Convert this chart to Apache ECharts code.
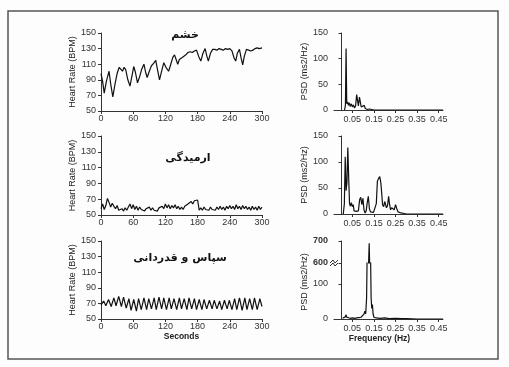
<!DOCTYPE html>
<html>
<head>
<meta charset="utf-8">
<script src="https://cdn.jsdelivr.net/npm/echarts@6/dist/echarts.min.js"></script>
<style>
  html, body { margin: 0; padding: 0; background: #fff; }
  #chart { width: 509px; height: 367px; }
</style>
</head>
<body>
<div id="chart"></div>
<script>
// panel titles (Persian): anger, relaxation, appreciation
const panelTitles = ['خشم', 'ارمیدگی', 'سپاس و قدردانی'];
const freqTicks = [0.05, 0.15, 0.25, 0.35, 0.45];

// heart rate traces, [seconds, BPM]
const angerHr = [
  [0, 98], [3, 88], [6, 73], [10, 88], [15, 101], [18, 85], [22, 68], [26, 84], [30, 98], [34, 106],
  [37, 104], [40, 101], [43, 106], [46, 103], [50, 90], [54, 82], [58, 96], [61, 107], [64, 100], [68, 86],
  [72, 94], [76, 104], [80, 110], [83, 100], [86, 93], [90, 101], [94, 108], [98, 111], [102, 115], [105, 104],
  [109, 90], [113, 101], [117, 112], [121, 106], [126, 101], [130, 110], [134, 119], [137, 122], [140, 116], [143, 110],
  [146, 116], [150, 118], [154, 120], [158, 122], [162, 125], [166, 126], [170, 125], [174, 127], [178, 128], [182, 120],
  [186, 114], [190, 124], [194, 130], [197, 121], [200, 114], [204, 124], [208, 129], [212, 129], [216, 128], [220, 130],
  [224, 129], [228, 128], [232, 130], [236, 129], [240, 130], [244, 127], [248, 118], [251, 114], [254, 124], [258, 129],
  [261, 118], [264, 109], [267, 120], [271, 129], [275, 128], [279, 127], [283, 128], [287, 130], [291, 131], [295, 130],
  [300, 131]
];
const relaxStep = 3;
const relaxHr = [
  58, 64, 57, 62, 71, 66, 60, 65, 61, 58, 62, 56, 55, 58, 55, 59, 56, 60, 64, 58,
  63, 57, 61, 56, 60, 57, 59, 55, 58, 56, 60, 56, 59, 56, 58, 55, 59, 57, 61, 58,
  64, 59, 63, 58, 62, 59, 63, 58, 61, 57, 60, 57, 61, 59, 64, 62, 67, 64, 68, 66,
  69, 56, 59, 56, 60, 57, 59, 56, 60, 57, 59, 56, 60, 57, 61, 57, 60, 56, 61, 58,
  62, 58, 61, 57, 63, 58, 61, 57, 62, 58, 61, 57, 60, 56, 61, 57, 60, 56, 61, 57,
  60
];
const appreciationHr = [
  [0, 68], [5, 73], [9, 67], [14, 75], [19, 66], [24, 77], [28, 67], [33, 79], [38, 66], [42, 78],
  [47, 64], [52, 76], [56, 61], [61, 75], [66, 60], [70, 76], [75, 62], [80, 77], [85, 62], [89, 76],
  [94, 63], [99, 77], [103, 62], [108, 78], [113, 63], [117, 77], [122, 62], [127, 77], [131, 63], [136, 76],
  [141, 62], [146, 77], [150, 63], [155, 76], [160, 62], [164, 77], [169, 63], [174, 76], [178, 62], [183, 75],
  [188, 62], [192, 75], [197, 63], [202, 74], [207, 63], [211, 74], [216, 63], [221, 73], [225, 62], [230, 74],
  [235, 63], [239, 74], [244, 62], [249, 76], [253, 62], [258, 77], [263, 61], [268, 77], [272, 62], [277, 76],
  [282, 62], [286, 77], [291, 62], [296, 76], [300, 66]
];

// power spectra, [Hz, ms2/Hz]
const angerPsd = [
  [0.014, 0], [0.018, 10], [0.021, 120], [0.024, 12], [0.028, 16], [0.032, 9], [0.036, 14], [0.04, 7], [0.045, 12], [0.05, 6],
  [0.055, 10], [0.06, 4], [0.065, 8], [0.07, 30], [0.074, 33], [0.078, 8], [0.083, 25], [0.087, 28], [0.091, 6], [0.096, 4],
  [0.1, 6], [0.105, 9], [0.11, 3], [0.115, 5], [0.12, 1], [0.13, 2], [0.14, 1], [0.15, 0], [0.47, 0]
];
const relaxPsd = [
  [0.008, 0], [0.013, 20], [0.017, 110], [0.021, 45], [0.025, 60], [0.029, 128], [0.033, 70], [0.037, 20], [0.041, 15], [0.045, 22],
  [0.05, 14], [0.054, 18], [0.058, 6], [0.063, 3], [0.068, 5], [0.073, 2], [0.078, 6], [0.084, 28], [0.089, 32], [0.094, 18],
  [0.099, 30], [0.104, 8], [0.109, 2], [0.114, 6], [0.119, 22], [0.124, 34], [0.129, 10], [0.134, 4], [0.14, 2], [0.148, 3],
  [0.155, 1], [0.161, 20], [0.166, 63], [0.171, 68], [0.177, 72], [0.182, 60], [0.186, 40], [0.19, 18], [0.195, 14], [0.2, 24],
  [0.204, 27], [0.208, 12], [0.213, 16], [0.218, 34], [0.222, 20], [0.227, 8], [0.232, 12], [0.238, 15], [0.244, 8], [0.25, 18],
  [0.256, 10], [0.262, 4], [0.268, 5], [0.275, 2], [0.282, 3], [0.29, 1], [0.3, 0], [0.47, 0]
];
const appreciationPsd = [
  [0.005, 2], [0.012, 3], [0.017, 6], [0.021, 12], [0.024, 5], [0.028, 8], [0.033, 3], [0.04, 2], [0.05, 3], [0.06, 2],
  [0.07, 3], [0.08, 4], [0.09, 5], [0.098, 8], [0.104, 14], [0.108, 22], [0.112, 15], [0.116, 60], [0.12, 250], [0.124, 560],
  [0.128, 690], [0.131, 560], [0.134, 200], [0.137, 60], [0.14, 30], [0.143, 41], [0.146, 15], [0.15, 5], [0.16, 3], [0.18, 2],
  [0.2, 3], [0.22, 1], [0.25, 2], [0.28, 1], [0.3, 1], [0.35, 0], [0.47, 0]
];

const font = '"Liberation Sans", Arial, sans-serif';
const ink = '#111';
const axisLine = { lineStyle: { color: '#333', width: 1 } };
const tick = { length: 3, lineStyle: { color: '#333' } };
const label = { fontFamily: font, fontSize: 9, color: '#333' };
const nameStyle = { fontFamily: font, fontSize: 9, color: '#222' };

const grids = [
  { left: 101, top: 33, width: 161, height: 78 },
  { left: 101, top: 136, width: 161, height: 79 },
  { left: 101, top: 241, width: 161, height: 78 },
  { left: 334, top: 33, width: 109, height: 77 },
  { left: 334, top: 136, width: 109, height: 78 },
  { left: 334, top: 263, width: 109, height: 56 },
  { left: 334, top: 241, width: 109, height: 22 }
];

const secAxis = (gi, extra) => Object.assign({
  type: 'value', gridIndex: gi, min: 0, max: 300, interval: 60,
  axisLine, axisTick: tick, splitLine: { show: false },
  axisLabel: Object.assign({ margin: 3 }, label)
}, extra);
const freqAxis = (gi, extra) => Object.assign({
  type: 'value', gridIndex: gi, min: -0.035, max: 0.47,
  axisLine, splitLine: { show: false },
  axisTick: Object.assign({ customValues: freqTicks }, tick),
  axisLabel: Object.assign({ margin: 5, customValues: freqTicks, formatter: v => v.toFixed(2) }, label)
}, extra);
const hrAxis = gi => ({
  type: 'value', gridIndex: gi, min: 50, max: 150, interval: 20,
  name: 'Heart Rate (BPM)', nameLocation: 'middle', nameGap: 24, nameTextStyle: nameStyle,
  axisLine, axisTick: tick, splitLine: { show: false },
  axisLabel: Object.assign({ margin: 5 }, label)
});
const psdAxis = gi => ({
  type: 'value', gridIndex: gi, min: 0, max: 150, interval: 50,
  name: 'PSD (ms2/Hz)', nameLocation: 'middle', nameGap: 23, nameTextStyle: nameStyle,
  axisLine, axisTick: tick, splitLine: { show: false },
  axisLabel: Object.assign({ margin: 6 }, label)
});
const boldName = { fontFamily: font, fontSize: 8.5, fontWeight: 'bold', color: '#222' };

const line = (data, xi, yi) => ({
  type: 'line', data, xAxisIndex: xi, yAxisIndex: yi,
  showSymbol: false, lineStyle: { color: ink, width: 1.2 }, clip: true
});

const chart = echarts.init(document.getElementById('chart'));
chart.setOption({
  animation: false,
  backgroundColor: '#fdfdfd',
  grid: grids,
  xAxis: [
    secAxis(0), secAxis(1),
    secAxis(2, { name: 'Seconds', nameLocation: 'middle', nameGap: 13, nameTextStyle: boldName }),
    freqAxis(3), freqAxis(4),
    freqAxis(5, { name: 'Frequency (Hz)', nameLocation: 'middle', nameGap: 15,
      nameTextStyle: Object.assign({ padding: [0, 18, 0, 0] }, boldName) }),
    freqAxis(6, { show: false })
  ],
  yAxis: [
    hrAxis(0), hrAxis(1), hrAxis(2),
    psdAxis(3), psdAxis(4),
    {
      type: 'value', gridIndex: 5, min: 0, max: 160,
      axisLine, splitLine: { show: false },
      axisTick: Object.assign({ customValues: [0, 100] }, tick),
      axisLabel: Object.assign({ margin: 6, customValues: [0, 100] }, label)
    },
    {
      type: 'value', gridIndex: 6, min: 600, max: 700,
      axisLine, splitLine: { show: false },
      axisTick: Object.assign({ customValues: [600, 700] }, tick),
      axisLabel: Object.assign({ margin: 6, customValues: [600, 700], fontWeight: 'bold' }, label)
    }
  ],
  series: [
    line(angerHr, 0, 0),
    line(relaxHr.map((v, i) => [i * relaxStep, v]), 1, 1),
    line(appreciationHr, 2, 2),
    line(angerPsd, 3, 3),
    line(relaxPsd, 4, 4),
    line(appreciationPsd, 5, 5),
    line(appreciationPsd, 6, 6)
  ],
  graphic: [
    { type: 'rect', shape: { x: 8, y: 11, width: 490, height: 348 }, style: { fill: 'none', stroke: '#555', lineWidth: 1.5 }, z: -1 },
    { type: 'text', x: 185, y: 35, style: { text: panelTitles[0], font: 'bold 11px "DejaVu Sans"', fill: '#111', align: 'center', verticalAlign: 'middle' } },
    { type: 'text', x: 188, y: 158, style: { text: panelTitles[1], font: 'bold 11px "DejaVu Sans"', fill: '#111', align: 'center', verticalAlign: 'middle' } },
    { type: 'text', x: 180, y: 258, style: { text: panelTitles[2], font: 'bold 11px "DejaVu Sans"', fill: '#111', align: 'center', verticalAlign: 'middle' } },
    { type: 'text', x: 305, y: 282, rotation: Math.PI / 2, style: { text: 'PSD (ms2/Hz)', font: '9px "Liberation Sans"', fill: '#222', align: 'center', verticalAlign: 'middle' } },
    { type: 'rect', shape: { x: 331, y: 261, width: 6, height: 4 }, style: { fill: '#fdfdfd' }, z: 100 },
    { type: 'polyline', shape: { points: [[330, 263], [333, 260], [335, 263], [338, 260]] }, style: { stroke: '#333', lineWidth: 1, fill: 'none' }, z: 101 },
    { type: 'polyline', shape: { points: [[330, 266], [333, 263], [335, 266], [338, 263]] }, style: { stroke: '#333', lineWidth: 1, fill: 'none' }, z: 101 }
  ]
});
</script>
</body>
</html>
